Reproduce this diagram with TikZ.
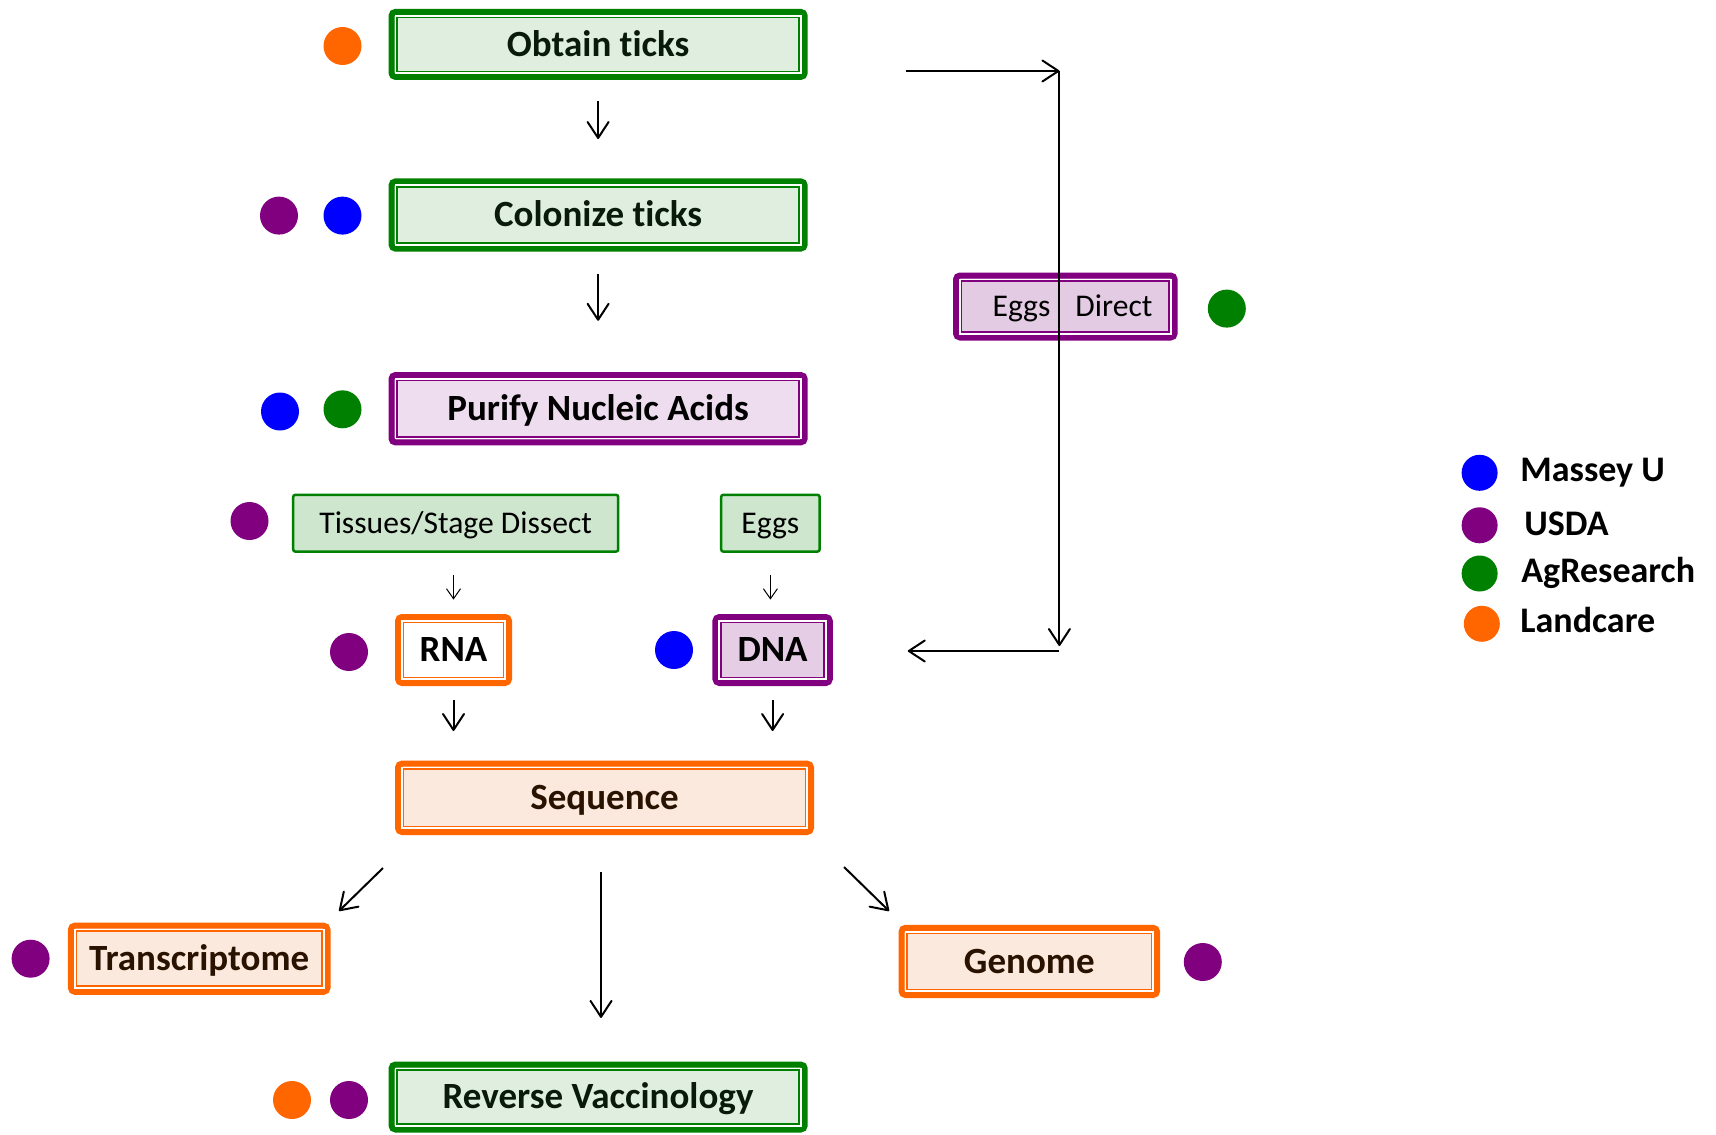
\documentclass[tikz,border=0pt]{standalone}
\usepackage{fontspec}
\setmainfont{Carlito}[Ligatures={NoCommon}]
\usetikzlibrary{arrows.meta}
\definecolor{cgreen}{HTML}{008000}
\definecolor{cpurple}{HTML}{800080}
\definecolor{corange}{HTML}{FF6600}
\definecolor{cblue}{HTML}{0000FF}
\definecolor{gfill}{HTML}{DFEEDF}
\definecolor{sfill}{HTML}{CDE6CD}
\definecolor{pfill}{HTML}{EEDDEE}
\definecolor{efill}{HTML}{E3CBE3}
\definecolor{dfill}{HTML}{E6CDE6}
\definecolor{ofill}{HTML}{FCE9DE}
\definecolor{otext}{HTML}{2A1200}
\definecolor{gtext}{HTML}{0A1A0A}
\newcommand\bigfnt{\fontsize{18.5}{22}\selectfont\bfseries}
\newcommand\regfnt{\fontsize{15.8}{19}\selectfont}
\newcommand\legfnt{\fontsize{18}{21}\selectfont\bfseries}
\newcommand\innerframe[2]{%
  \draw[white,line width=0.9pt] ([shift={(3.45pt,3.45pt)}]#1.south west) rectangle ([shift={(-3.45pt,-3.45pt)}]#1.north east);
  \draw[#2,line width=0.75pt] ([shift={(4.3pt,4.3pt)}]#1.south west) rectangle ([shift={(-4.3pt,-4.3pt)}]#1.north east);}
\tikzset{
  dbl/.style={draw=#1, line width=3pt, rounded corners=2pt, inner sep=0pt, text height=11.7pt, text depth=0pt, font=\bigfnt},
  sbx/.style={draw=cgreen, line width=1.25pt, rounded corners=1pt, fill=sfill, inner sep=0pt, text height=10pt, text depth=0pt, font=\regfnt},
  dot/.style={circle, fill=#1, minimum size=19pt, inner sep=0pt},
  ldot/.style={circle, fill=#1, minimum size=18pt, inner sep=0pt},
  legtxt/.style={anchor=base west, font=\legfnt, inner sep=0pt},
  arr/.style={draw, line width=1pt, -{Straight Barb[length=8pt,width=10.5pt,round]}},
  sarr/.style={draw, line width=0.5pt, -{Straight Barb[length=5pt,width=7pt]}}
}
\begin{document}
\begin{tikzpicture}[x=0.5pt,y=-0.5pt]
\useasboundingbox (0,0) rectangle (1716,1134);

% boxes
\node[dbl=cgreen, fill=gfill, text=gtext, minimum width=206.6pt, minimum height=32.5pt] (obtain) at (598.1,44.4) {Obtain ticks};
\innerframe{obtain}{cgreen}
\node[dbl=cgreen, fill=gfill, text=gtext, minimum width=206.6pt, minimum height=33.6pt] (colonize) at (598.1,215) {Colonize ticks};
\innerframe{colonize}{cgreen}
\node[dbl=cpurple, fill=pfill, minimum width=206.6pt, minimum height=33.7pt] (purify) at (598.1,408.7) {Purify Nucleic Acids};
\innerframe{purify}{cpurple}
\node[sbx, minimum width=162.5pt, minimum height=28.3pt] (tissues) at (455.7,523.2) {Tissues/Stage Dissect};
\node[sbx, minimum width=49.2pt, minimum height=28.3pt] (eggs) at (770.4,523.2) {Eggs};
\node[dbl=corange, fill=white, minimum width=55.5pt, minimum height=33pt] (rna) at (453.5,650) {RNA};
\innerframe{rna}{corange}
\node[dbl=cpurple, fill=dfill, minimum width=57.2pt, minimum height=33pt] (dna) at (772.6,650) {DNA};
\innerframe{dna}{cpurple}
\node[dbl=corange, fill=ofill, text=otext, minimum width=206.5pt, minimum height=34.2pt] (sequence) at (604.5,797.8) {Sequence};
\innerframe{sequence}{corange}
\node[dbl=corange, fill=ofill, text=otext, minimum width=128.3pt, minimum height=33.1pt] (transcriptome) at (199.2,958.7) {Transcriptome};
\innerframe{transcriptome}{corange}
\node[dbl=corange, fill=ofill, text=otext, minimum width=127.75pt, minimum height=33.6pt] (genome) at (1029.3,961.4) {Genome};
\innerframe{genome}{corange}
\node[dbl=cgreen, fill=gfill, text=gtext, minimum width=206.6pt, minimum height=32.5pt] (rv) at (598.1,1097) {Reverse Vaccinology};
\innerframe{rv}{cgreen}
\node[dbl=cpurple, fill=efill, font=\regfnt, text height=10pt, minimum width=109.3pt, minimum height=31pt] (eggdir) at (1065.3,306.5) {\hspace*{7.2pt}Eggs\hspace{12.5pt}Direct};
\innerframe{eggdir}{cpurple}

% dots
\node[dot=corange] (d1) at (342.5,46) {};
\node[dot=cpurple] (d2) at (279,215.6) {};
\node[dot=cblue] (d3) at (342.5,215.6) {};
\node[dot=cblue] (d4) at (280,411.5) {};
\node[dot=cgreen] (d5) at (342.5,409.3) {};
\node[dot=cpurple] (d6) at (249.5,521) {};
\node[dot=cpurple] (d7) at (349,652) {};
\node[dot=cblue] (d8) at (674,650) {};
\node[dot=cpurple] (d9) at (30.6,958.7) {};
\node[dot=cpurple] (d10) at (1202.8,962) {};
\node[dot=corange] (d11) at (292,1100) {};
\node[dot=cpurple] (d12) at (349,1100) {};
\node[dot=cgreen] (d13) at (1226.8,308.6) {};

% legend
\node[ldot=cblue] (l1) at (1479.6,472.8) {};
\node[ldot=cpurple] (l2) at (1479.6,525.3) {};
\node[ldot=cgreen] (l3) at (1479.6,573.5) {};
\node[ldot=corange] (l4) at (1481.8,623.8) {};
\node[legtxt] (lt1) at (1520,481) {Massey U};
\node[legtxt] (lt2) at (1524,535) {USDA};
\node[legtxt] (lt3) at (1521,582) {AgResearch};
\node[legtxt] (lt4) at (1520,632) {Landcare};

% arrows
\draw[arr, shorten <=10.4pt, shorten >=19.7pt] (obtain.south) -- (colonize.north);
\draw[arr, shorten <=11pt, shorten >=25.6pt] (colonize.south) -- (purify.north);
\draw[sarr, shorten <=11pt, shorten >=7.2pt] (rna.north |- tissues.south) -- (rna.north);
\draw[sarr, shorten <=11pt, shorten >=7.2pt] (eggs.south) -- (eggs.south |- dna.north);
\draw[arr, shorten <=7pt, shorten >=14.8pt] (rna.south) -- (rna.south |- sequence.north);
\draw[arr, shorten <=7pt, shorten >=14.8pt] (dna.south) -- (dna.south |- sequence.north);
\draw[arr] ([shift={(-12,33)}]sequence.south west) -- ([shift={(8.5,-11.6)}]transcriptome.north east);
\draw[arr, shorten <=18.5pt, shorten >=21.8pt] ([xshift=-1.75pt]sequence.south) -- ([xshift=-1.75pt]sequence.south |- rv.north);
\draw[arr] ([shift={(30,32)}]sequence.south east) -- ([shift={(-9.5,-13.8)}]genome.north west);

% right path
\coordinate (rs) at (906,71);
\coordinate (rc1) at (1059.4,71);
\coordinate (rc2) at (1059.4,646);
\coordinate (rc3) at (1059.4,651);
\draw[arr] (rs) -- (rc1);
\draw[arr] (rc1) -- (rc2);
\draw[arr] (rc3) -- ([shift={(75,1)}]dna.east);
\end{tikzpicture}
\end{document}
